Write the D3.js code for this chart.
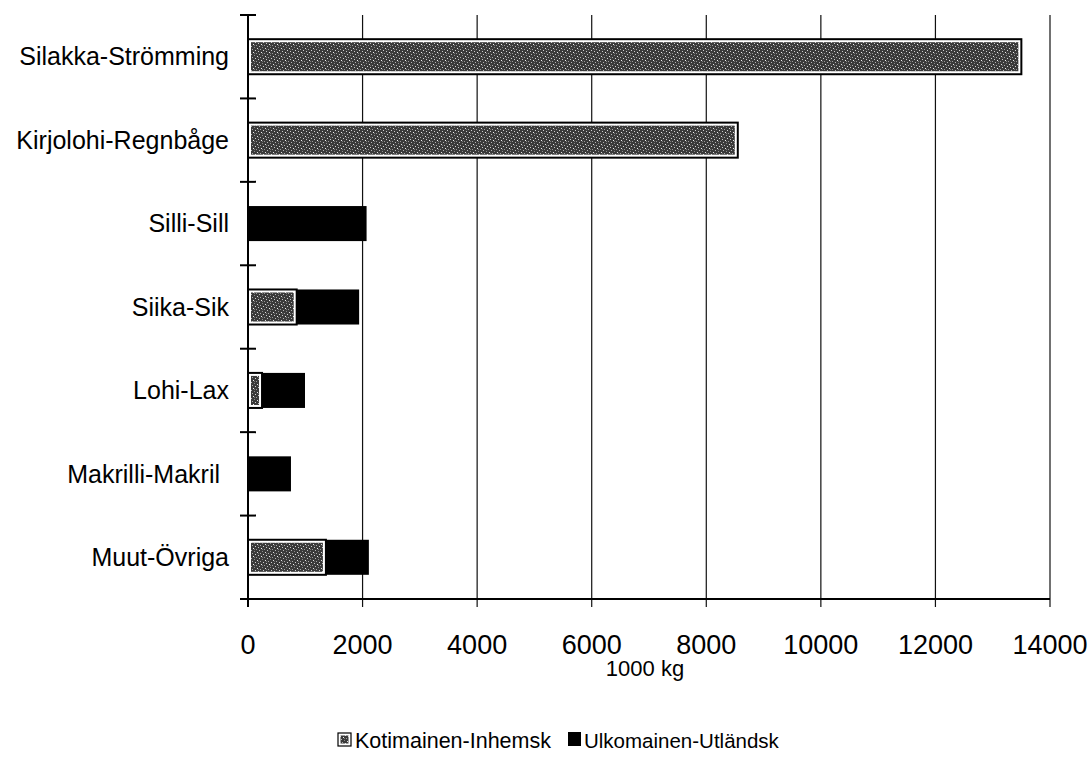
<!DOCTYPE html>
<html>
<head>
<meta charset="utf-8">
<script src="https://cdn.jsdelivr.net/npm/d3@7"></script>
<style>
  body { margin: 0; background: white; }
  svg { font-family: "Liberation Sans", Arial, sans-serif; }
</style>
</head>
<body>
<svg id="chart" width="1090" height="761"></svg>
<script>
const categories = ["Silakka-Strömming", "Kirjolohi-Regnbåge", "Silli-Sill", "Siika-Sik", "Lohi-Lax", "Makrilli-Makril", "Muut-Övriga"];
const domestic = [13500, 8550, 0, 850, 245, 0, 1360];
const foreign = [0, 0, 2070, 1090, 750, 750, 750];
const xTicks = [0, 2000, 4000, 6000, 8000, 10000, 12000, 14000];
const seriesNames = ["Kotimainen-Inhemsk", "Ulkomainen-Utländsk"];

const svg = d3.select("#chart");
const margin = { top: 15, left: 248, right: 40, bottom: 162 };
const width = 1090 - margin.left - margin.right;
const height = 761 - margin.top - margin.bottom;

const x = d3.scaleLinear().domain([0, 14000]).range([0, width]);
const y = d3.scaleBand().domain(categories).range([0, height]).paddingInner(0.58).paddingOuter(0.29);
const step = y.step();

// stipple texture for the domestic series
const defs = svg.append("defs");
const pat = defs.append("pattern")
    .attr("id", "stipple")
    .attr("patternUnits", "userSpaceOnUse")
    .attr("width", 8).attr("height", 8);
pat.append("rect").attr("width", 8).attr("height", 8).attr("fill", "#3a3a3a");
[[1, 1, "#e0e0e0"], [4, 2, "#a8a8a8"], [2, 4, "#c8c8c8"], [5, 5, "#eeeeee"], [0, 6, "#999"],
 [6, 0, "#8a8a8a"], [3, 7, "#b5b5b5"], [7, 3, "#d0d0d0"], [6, 6, "#777"], [2, 2, "#666"]]
    .forEach(([px, py, c]) => pat.append("rect").attr("x", px).attr("y", py).attr("width", 1).attr("height", 1).attr("fill", c));

const g = svg.append("g").attr("transform", `translate(${margin.left},${margin.top})`);

// vertical gridlines
g.selectAll("line.grid")
    .data(xTicks.slice(1))
    .join("line")
    .attr("class", "grid")
    .attr("x1", d => x(d)).attr("x2", d => x(d))
    .attr("y1", 0).attr("y2", height + 8)
    .attr("stroke", "#111").attr("stroke-width", 1.2);

const rows = categories.map((c, i) => ({ cat: c, dom: domestic[i], for: foreign[i] }));

// foreign (black) part, stacked after domestic
g.selectAll("rect.foreign")
    .data(rows.filter(d => d.for > 0))
    .join("rect")
    .attr("class", "foreign")
    .attr("x", d => x(d.dom))
    .attr("y", d => y(d.cat))
    .attr("width", d => x(d.dom + d.for) - x(d.dom))
    .attr("height", y.bandwidth())
    .attr("fill", "#000");

// domestic part: black outline, white gap, stippled fill
const domRows = rows.filter(d => d.dom > 0);
g.selectAll("rect.dom-outline")
    .data(domRows)
    .join("rect")
    .attr("class", "dom-outline")
    .attr("x", x(0))
    .attr("y", d => y(d.cat))
    .attr("width", d => x(d.dom))
    .attr("height", y.bandwidth())
    .attr("fill", "white")
    .attr("stroke", "#000")
    .attr("stroke-width", 2);

g.selectAll("rect.dom-fill")
    .data(domRows)
    .join("rect")
    .attr("class", "dom-fill")
    .attr("x", x(0) + 3)
    .attr("y", d => y(d.cat) + 3)
    .attr("width", d => Math.max(0, x(d.dom) - 6))
    .attr("height", y.bandwidth() - 6)
    .attr("fill", "url(#stipple)");

// y axis
g.append("line")
    .attr("x1", 0).attr("x2", 0).attr("y1", 0).attr("y2", height + 8)
    .attr("stroke", "#000").attr("stroke-width", 2);
g.selectAll("line.ytick")
    .data(d3.range(categories.length + 1))
    .join("line")
    .attr("class", "ytick")
    .attr("x1", -8).attr("x2", 8)
    .attr("y1", i => i * step).attr("y2", i => i * step)
    .attr("stroke", "#000").attr("stroke-width", 2);

// x axis
g.append("line")
    .attr("x1", -8).attr("x2", width).attr("y1", height).attr("y2", height)
    .attr("stroke", "#000").attr("stroke-width", 2);

g.selectAll("text.xlabel")
    .data(xTicks)
    .join("text")
    .attr("class", "xlabel")
    .attr("x", d => x(d))
    .attr("y", height + 55)
    .attr("text-anchor", "middle")
    .attr("font-size", 27)
    .text(d => d);

g.selectAll("text.ylabel")
    .data(categories)
    .join("text")
    .attr("class", "ylabel")
    .attr("x", d => d === "Makrilli-Makril" ? -28 : -19)
    .attr("y", d => y(d) + y.bandwidth() / 2)
    .attr("dy", "0.35em")
    .attr("text-anchor", "end")
    .attr("font-size", 25)
    .text(d => d);

svg.append("text")
    .attr("x", margin.left + x(7000) - 4)
    .attr("y", 676)
    .attr("text-anchor", "middle")
    .attr("font-size", 22)
    .text("1000 kg");

// legend
const legend = svg.append("g").attr("transform", "translate(338,748)");
legend.append("rect").attr("x", 0).attr("y", -15).attr("width", 13).attr("height", 13)
    .attr("fill", "white").attr("stroke", "#000").attr("stroke-width", 1.2);
legend.append("rect").attr("x", 2.5).attr("y", -12.5).attr("width", 8).attr("height", 8).attr("fill", "url(#stipple)");
legend.append("text").attr("x", 17).attr("y", 0).attr("font-size", 21.5).text(seriesNames[0]);
legend.append("rect").attr("x", 230).attr("y", -16).attr("width", 13).attr("height", 14).attr("fill", "#000");
legend.append("text").attr("x", 246).attr("y", 0).attr("font-size", 20.5).text(seriesNames[1]);
</script>
</body>
</html>
